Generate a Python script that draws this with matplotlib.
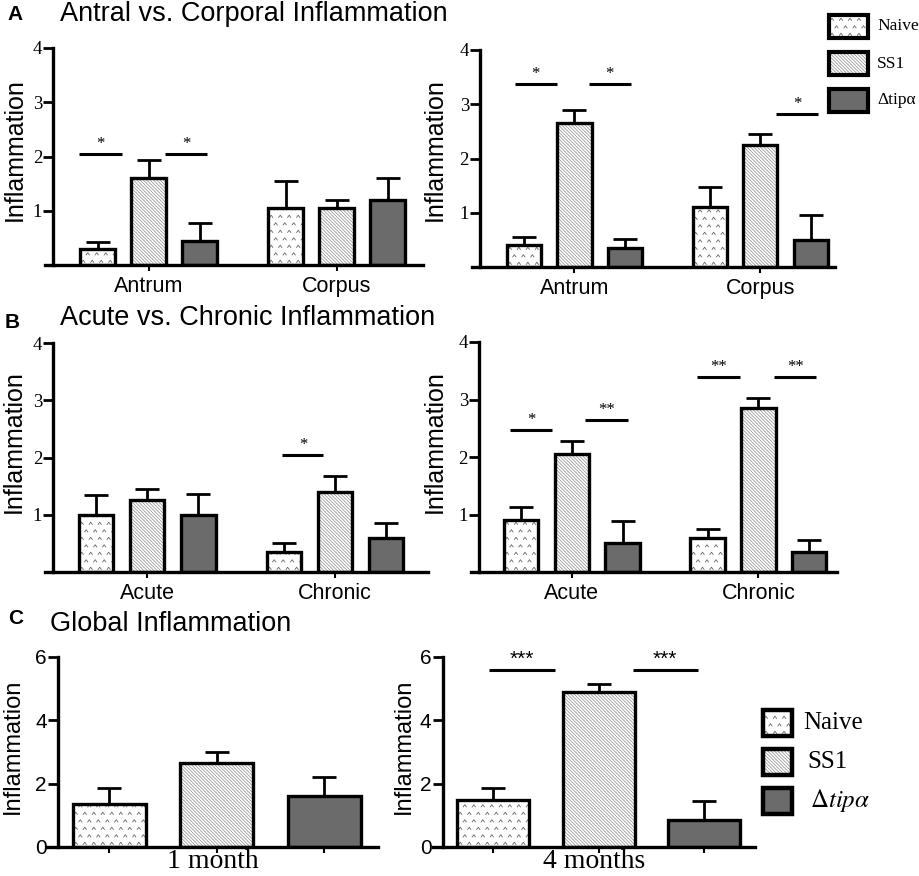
import matplotlib
matplotlib.use("Agg")
import matplotlib.pyplot as plt
import numpy as np
from matplotlib.patches import Rectangle
from matplotlib.path import Path
from matplotlib.transforms import IdentityTransform

plt.rcParams['font.family'] = ['Liberation Sans', 'DejaVu Sans']
plt.rcParams['mathtext.fontset'] = 'stix'
plt.rcParams['hatch.linewidth'] = 0.5

groups = ["Naive", "SS1", "Δtipα"]

# panel A: antral vs corporal
a_cats = ["Antrum", "Corpus"]
a1_mean = [[0.30, 1.60, 0.45], [1.05, 1.05, 1.20]]
a1_err = [[0.12, 0.33, 0.33], [0.50, 0.15, 0.40]]
a2_mean = [[0.40, 2.65, 0.35], [1.10, 2.25, 0.50]]
a2_err = [[0.15, 0.25, 0.17], [0.38, 0.20, 0.45]]

# panel B: acute vs chronic
b_cats = ["Acute", "Chronic"]
b1_mean = [[1.00, 1.25, 1.00], [0.35, 1.40, 0.60]]
b1_err = [[0.35, 0.20, 0.37], [0.15, 0.27, 0.25]]
b2_mean = [[0.90, 2.05, 0.50], [0.60, 2.85, 0.35]]
b2_err = [[0.23, 0.23, 0.38], [0.15, 0.17, 0.20]]

# panel C: global
c_cats = ["1 month", "4 months"]
c1_mean = [1.35, 2.65, 1.60]
c1_err = [0.50, 0.35, 0.62]
c2_mean = [1.50, 4.90, 0.85]
c2_err = [0.37, 0.25, 0.60]

# significance bars (x from, x to, y, label)
a1_sig = [(-0.36, 0.48, 2.05, "*"), (1.32, 2.15, 2.05, "*")]
a2_sig = [(-0.18, 0.65, 3.38, "*"), (1.28, 2.11, 3.38, "*"), (4.99, 5.82, 2.82, "*")]
b1_sig = [(3.65, 4.45, 2.05, "*")]
b2_sig = [(-0.22, 0.61, 2.47, "*"), (1.26, 2.11, 2.64, "**"),
          (3.47, 4.32, 3.39, "**"), (4.99, 5.82, 3.39, "**")]
c2_sig = [(-0.04, 0.59, 5.59, "***"), (1.32, 1.94, 5.59, "***")]

W, H = 920, 876
fig = plt.figure(figsize=(W / 100, H / 100), dpi=100)

SERIF = ['Liberation Serif', 'DejaVu Serif']
DARK = '#6b6b6b'
SS1_HATCH = '\\' * 10
caret = Path([(-1, -0.7), (0, 0.7), (1, -0.7)], [Path.MOVETO, Path.LINETO, Path.LINETO])


def px_axes(x0, x1, ytop, ybot):
    return fig.add_axes([x0 / W, 1 - ybot / H, (x1 - x0) / W, (ybot - ytop) / H])


def add_carets(ax, patch, dx=9.0, dy=7.5):
    bb = patch.get_window_extent()
    xs, ys = [], []
    y = bb.y0 + 3.5
    row = 0
    while y < bb.y1:
        x = bb.x0 + 3 + (dx / 2 if row % 2 else 0)
        while x < bb.x1:
            xs.append(x)
            ys.append(y)
            x += dx
        y += dy
        row += 1
    sc = ax.scatter(xs, ys, s=7, marker=caret, facecolors='none', edgecolors='0.4',
                    linewidths=0.6, transform=IdentityTransform(), zorder=3)
    sc.set_clip_path(patch)


def style_patch(ax, p, kind):
    if kind == 0:
        p.set_facecolor('white')
        add_carets(ax, p)
    elif kind == 1:
        p.set_facecolor('white')
        p.set_edgecolor('0.55')
        p.set_hatch(SS1_HATCH)
    else:
        p.set_facecolor(DARK)


def draw_bars(ax, xs, hs, errs, width, kinds):
    bars = ax.bar(xs, hs, width, color='white', edgecolor='none', linewidth=0, zorder=2)
    for b, k in zip(bars, kinds):
        style_patch(ax, b, k)
    ax.errorbar(xs, hs, yerr=[np.zeros(len(hs)), errs], fmt='none', ecolor='black',
                elinewidth=2, capsize=8.5, capthick=2, zorder=3)
    ax.bar(xs, hs, width, fill=False, edgecolor='black', linewidth=2.4, zorder=4)


def draw_sig(ax, sigs, size=12, fam=SERIF):
    for x0, x1, y, lab in sigs:
        ax.plot([x0, x1], [y, y], color='black', lw=2.2, solid_capstyle='butt', clip_on=False)
        ax.text((x0 + x1) / 2, y + 0.03 * ax.get_ylim()[1] / 4, lab, ha='center', va='bottom',
                fontsize=size, family=fam)


def style_axes(ax, spine_x):
    for s in ('top', 'right'):
        ax.spines[s].set_visible(False)
    ax.spines['left'].set_position(('data', spine_x))
    ax.spines['left'].set_linewidth(2.4)
    ax.spines['bottom'].set_linewidth(2.4)
    ax.patch.set_visible(False)


def grouped_panel(rect, xlim, spine_x, means, errs, cats, sigs, gap=3.68):
    ax = px_axes(*rect)
    ax.set_xlim(*xlim)
    ax.set_ylim(0, 4)
    style_axes(ax, spine_x)
    for g, (m, e) in enumerate(zip(means, errs)):
        xs = g * gap + np.arange(len(groups))
        draw_bars(ax, xs, m, e, 0.68, range(len(groups)))
    ax.set_xticks([1 + g * gap for g in range(len(cats))], labels=cats)
    ax.set_yticks([1, 2, 3, 4])
    ax.tick_params(axis='x', length=4, width=1.5, pad=4, labelsize=15.5)
    ax.tick_params(axis='y', length=7, width=2, pad=1, labelsize=13.5)
    for t in ax.get_yticklabels():
        t.set_family(SERIF)
    draw_sig(ax, sigs)
    return ax


def single_panel(rect, xlim, spine_x, means, errs, cat, sigs):
    ax = px_axes(*rect)
    ax.set_xlim(*xlim)
    ax.set_ylim(0, 6)
    style_axes(ax, spine_x)
    xs = np.arange(len(groups))
    draw_bars(ax, xs, means, errs, 0.68, range(len(groups)))
    ax.set_xticks(xs, labels=[])
    ax.set_yticks([0, 2, 4, 6])
    ax.tick_params(axis='x', length=4, width=1.5)
    ax.tick_params(axis='y', length=7, width=2, pad=1, labelsize=15)
    ax.set_xlabel(cat, family=SERIF, fontsize=20)
    ax.xaxis.label.set_va('baseline')
    ax.xaxis.set_label_coords(0.5, -(868 - 847) / 190)
    draw_sig(ax, sigs, size=15, fam=['Liberation Sans'])
    return ax


grouped_panel((45, 423, 48, 265), (-1.03, 6.37), -0.87, a1_mean, a1_err, a_cats, a1_sig)
grouped_panel((472, 835, 50, 267), (-1.03, 6.16), -0.87, a2_mean, a2_err, a_cats, a2_sig)
grouped_panel((45, 428, 343, 572), (-1.00, 6.50), -0.84, b1_mean, b1_err, b_cats, b1_sig)
grouped_panel((471, 837, 342, 572), (-0.99, 6.23), -0.83, b2_mean, b2_err, b_cats, b2_sig)
single_panel((47, 378, 657, 847), (-0.58, 2.50), -0.48, c1_mean, c1_err, c_cats[0], [])
single_panel((433, 755, 657, 847), (-0.57, 2.48), -0.48, c2_mean, c2_err, c_cats[1], c2_sig)

# overlay in pixel coordinates for titles, labels and legends
ov = fig.add_axes([0, 0, 1, 1])
ov.set_xlim(0, W)
ov.set_ylim(H, 0)
ov.axis('off')

for letter, title, lx, ly, tx, ty in [("A", "Antral vs. Corporal Inflammation", 7, 15, 60, 14),
                                      ("B", "Acute vs. Chronic Inflammation", 5, 323, 60, 318),
                                      ("C", "Global Inflammation", 8, 619, 50, 624)]:
    ov.text(lx, ly, letter, fontsize=15, fontweight='bold', va='center', ha='left')
    ov.text(tx, ty, title, fontsize=19.5, va='center', ha='left')

for x, y, fs in [(15, 150, 18), (435, 150, 18), (14, 442, 18), (435, 442, 18),
                 (13, 746, 17), (404, 746, 17)]:
    ov.text(x, y, "Inflammation", rotation=90, fontsize=fs, ha='center', va='center')


def legend(x0, w, tops, h, labels, tx, fs, lw):
    for k, (top, lab, x) in enumerate(zip(tops, labels, tx)):
        p = Rectangle((x0, top), w, h, facecolor='white', edgecolor='none', zorder=2)
        ov.add_patch(p)
        style_patch(ov, p, k)
        ov.add_patch(Rectangle((x0, top), w, h, fill=False, edgecolor='black', lw=lw, zorder=4))
        ov.text(x, top + h / 2, lab, fontsize=fs, family=SERIF, va='center', ha='left')


legend(829, 39, [15, 52, 89], 23, groups, [877, 877, 877], 12.5, 3)
legend(763, 29, [710, 749, 788], 26, ["Naive", "SS1", r"$\Delta tip\alpha$"],
       [803, 807, 810], 18, 3.2)

fig.savefig("out.png", dpi=100)
